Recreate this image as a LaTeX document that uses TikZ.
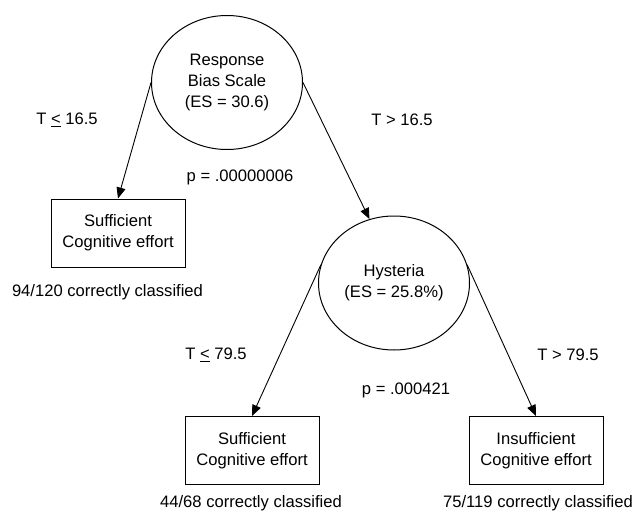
\documentclass[tikz,border=0pt]{standalone}
\usepackage{fontspec}
\setmainfont{Liberation Sans}
\usetikzlibrary{shapes.geometric,arrows.meta}
\begin{document}
\begin{tikzpicture}[x=1pt,y=-1pt,
  every node/.style={font=\fontsize{16.6}{21}\selectfont, inner sep=0pt},
  decision/.style={ellipse, draw, line width=1pt, minimum width=151pt, minimum height=134pt, align=center},
  leaf/.style={rectangle, draw, line width=1pt, minimum width=134pt, minimum height=68pt, align=center},
  link/.style={line width=0.9pt, -{Triangle[length=11pt,width=9pt]}},
  lbl/.style={anchor=center}]
\useasboundingbox (0,0) rectangle (634,511);
% nodes
\node[decision] (rbs) at (227,82.5) {Response\\Bias Scale\\(ES = 30.6)};
\node[leaf] (suf1) at (118,233) {Sufficient\\Cognitive effort};
\node[decision] (hyst) at (394,283) {Hysteria\\(ES = 25.8\%)};
\node[leaf] (suf2) at (252,450.5) {Sufficient\\Cognitive effort};
\node[leaf] (insuf) at (536,450.5) {Insufficient\\Cognitive effort};
% labels
\node[lbl] (l1) at (67,120) {T \underline{<} 16.5};
\node[lbl] (l2) at (402,120) {T > 16.5};
\node[lbl] (p1) at (240,177) {p = .00000006};
\node[lbl] (c1) at (107.5,292) {94/120 correctly classified};
\node[lbl] (l3) at (216,355) {T \underline{<} 79.5};
\node[lbl] (l4) at (568,355) {T > 79.5};
\node[lbl] (p2) at (406,390) {p = .000421};
\node[lbl] (c2) at (251,503) {44/68 correctly classified};
\node[lbl] (c3) at (538,503) {75/119 correctly classified};
% connectors
\draw[link] (rbs.west) -- (suf1.north);
\draw[link] (rbs.east) -- (hyst.111);
\draw[link] (hyst.166) -- (suf2.north);
\draw[link] (hyst.14) -- (insuf.north);
\end{tikzpicture}
\end{document}
